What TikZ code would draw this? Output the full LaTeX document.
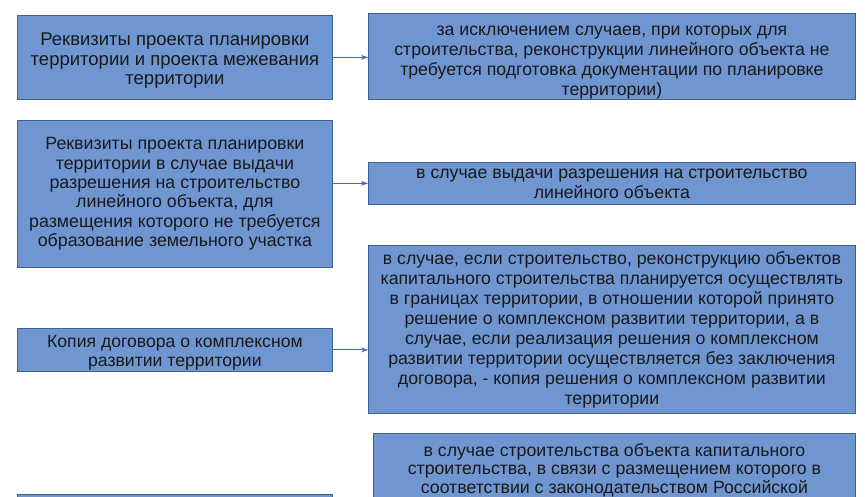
\documentclass[tikz,border=0pt]{standalone}
\usepackage{fontspec}
\setmainfont{Liberation Sans}
\usetikzlibrary{arrows.meta, positioning}
\definecolor{boxblue}{RGB}{112, 150, 210}
\definecolor{edgeblue}{RGB}{62, 96, 150}
\definecolor{linkblue}{RGB}{72, 110, 170}

\begin{document}
\begin{tikzpicture}[
  x=1pt, y=-1pt,
  box/.style={rectangle, draw=edgeblue, fill=boxblue, line width=0.8pt, align=center, anchor=north west, inner sep=0pt, text=black!90, font=\fontsize{17.7}{20}\selectfont},
  leftbox/.style={box, minimum width=315pt},
  rightbox/.style={box, minimum width=487pt},
  arrow/.style={-{Stealth[length=7pt, width=5pt]}, linkblue, line width=0.9pt}
]
  \useasboundingbox (0,0) rectangle (865,497);
  \clip (0,0) rectangle (865,497);

  \node[leftbox, minimum height=84pt, font=\fontsize{18.5}{19.5}\selectfont] (l1) at (17,15) {\rule{0pt}{20pt}Реквизиты проекта планировки\\территории и проекта межевания\\территории};
  \node[rightbox, minimum height=86pt] (r1) at (368,13) {\rule{0pt}{22.5pt}за исключением случаев, при которых для\\строительства, реконструкции линейного объекта не\\требуется подготовка документации по планировке\\территории)};

  \node[leftbox, minimum height=147pt, font=\fontsize{17.8}{19.4}\selectfont] (l2) at (17,120) {Реквизиты проекта планировки\\территории в случае выдачи\\разрешения на строительство\\линейного объекта, для\\размещения которого не требуется\\образование земельного участка};
  \node[rightbox, minimum height=42pt] (r2) at (368,162) {в случае выдачи разрешения на строительство\\линейного объекта};

  \node[rightbox, minimum height=168pt] (r3) at (368,245) {в случае, если строительство, реконструкцию объектов\\капитального строительства планируется осуществлять\\в границах территории, в отношении которой принято\\решение о комплексном развитии территории, а в\\случае, если реализация решения о комплексном\\развитии территории осуществляется без заключения\\договора, - копия решения о комплексном развитии\\территории};
  \node[leftbox, minimum height=43pt, font=\fontsize{17.6}{19}\selectfont] (l3) at (17,328) {\rule{0pt}{17pt}Копия договора о комплексном\\развитии территории};

  \node[box, minimum width=482pt, inner ysep=10pt, text depth=60pt, font=\fontsize{17.7}{18.5}\selectfont] (r4) at (373,433) {в случае строительства объекта капитального\\строительства, в связи с размещением которого в\\соответствии с законодательством Российской};
  \node[leftbox, minimum height=40pt] (l4) at (17,494) {};

  \draw[arrow] (l1.east) -- (l1.east -| r1.west);
  \draw[arrow] (r2.west -| l2.east) -- (r2.west);
  \draw[arrow] (l3.east) -- (l3.east -| r3.west);
\end{tikzpicture}
\end{document}
